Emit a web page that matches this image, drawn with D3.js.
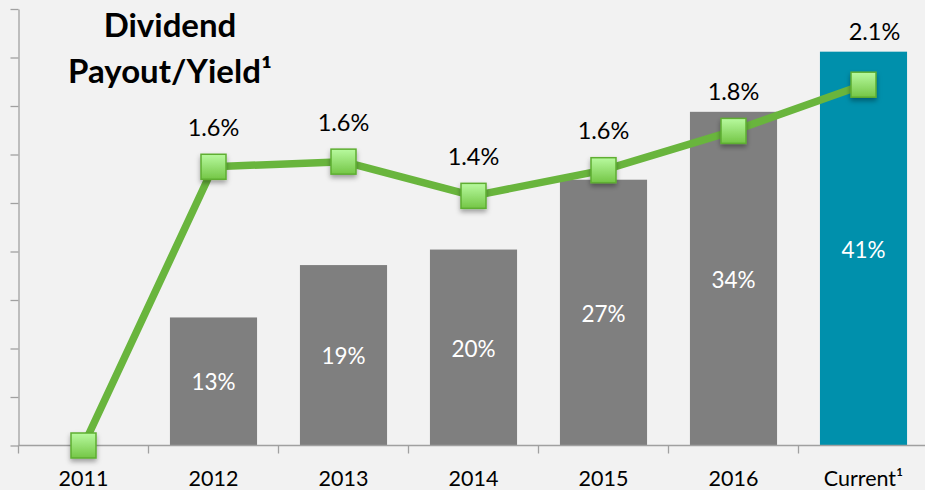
<!DOCTYPE html>
<html>
<head>
<meta charset="utf-8">
<script src="https://cdn.jsdelivr.net/npm/d3@7"></script>
<style>
  html, body { margin: 0; padding: 0; background: #f2f2f2; }
  svg { display: block; font-family: Lato, "Open Sans", sans-serif; }
</style>
</head>
<body>
<svg id="chart" width="925" height="490"></svg>
<script>
// ---- data ----
const categories = ["2011", "2012", "2013", "2014", "2015", "2016", "Current\u00b9"];
const payout = [null, 13.2, 18.6, 20.2, 27.4, 34.4, 40.6];          // % payout ratio (bars)
const payoutLabels = [null, "13%", "19%", "20%", "27%", "34%", "41%"];
const yieldValues = [0, 1.63, 1.66, 1.46, 1.61, 1.84, 2.11];        // % dividend yield (line)
const yieldLabels = [null, "1.6%", "1.6%", "1.4%", "1.6%", "1.8%", "2.1%"];
const payoutTicks = [0, 5, 10, 15, 20, 25, 30, 35, 40, 45];
const titleLines = ["Dividend", "Payout/Yield\u00b9"];

// ---- layout ----
const svg = d3.select("#chart");
const left = 18.5, right = 928.5, baseY = 445.5, topY = 9;

const x = d3.scaleBand().domain(categories).range([left, right])
  .paddingInner(0.33).paddingOuter(0.165);
const y = d3.scaleLinear().domain([0, 45]).range([baseY, topY]);
const y2 = d3.scaleLinear().domain([0, 2.6]).range([baseY, baseY - 2.6 * 171]);

const defs = svg.append("defs");
const grad = defs.append("linearGradient").attr("id", "mk").attr("x1", 0).attr("y1", 0).attr("x2", 0).attr("y2", 1);
grad.append("stop").attr("offset", "0%").attr("stop-color", "#b8fa9f");
grad.append("stop").attr("offset", "100%").attr("stop-color", "#74c646");
const f = defs.append("filter").attr("id", "sh").attr("x", "-50%").attr("y", "-50%").attr("width", "200%").attr("height", "200%");
f.append("feDropShadow").attr("dx", 0).attr("dy", 3).attr("stdDeviation", 2.5)
  .attr("flood-color", "#000").attr("flood-opacity", 0.35);

// left axis
svg.append("g").attr("transform", `translate(${left},0)`)
  .call(d3.axisLeft(y).tickValues(payoutTicks).tickSize(8).tickFormat("").tickSizeOuter(0))
  .call(g => g.selectAll("line,path").attr("stroke", "#a0a0a0").attr("stroke-width", 1.3));

// bars
const idx = d3.range(categories.length);
svg.append("g").selectAll("rect").data(idx.filter(i => payout[i] != null)).join("rect")
  .attr("x", i => x(categories[i]))
  .attr("width", x.bandwidth())
  .attr("y", i => y(payout[i]))
  .attr("height", i => y(0) - y(payout[i]))
  .attr("fill", i => i === categories.length - 1 ? "#0090ac" : "#7f7f7f");

// bar labels
svg.append("g").selectAll("text").data(idx.filter(i => payout[i] != null)).join("text")
  .attr("x", i => x(categories[i]) + x.bandwidth() / 2)
  .attr("y", i => (y(payout[i]) + y(0)) / 2 + 9)
  .attr("text-anchor", "middle")
  .attr("font-size", 22.5)
  .attr("fill", "#ffffff")
  .text(i => payoutLabels[i]);

// x axis
svg.append("line").attr("x1", left).attr("x2", 925).attr("y1", baseY).attr("y2", baseY)
  .attr("stroke", "#a0a0a0").attr("stroke-width", 1.3);
svg.append("g").selectAll("line").data(d3.range(categories.length + 1)).join("line")
  .attr("x1", k => left + k * x.step()).attr("x2", k => left + k * x.step())
  .attr("y1", baseY).attr("y2", baseY + 8)
  .attr("stroke", "#a0a0a0").attr("stroke-width", 1.3);
svg.append("g").selectAll("text").data(categories).join("text")
  .attr("x", d => x(d) + x.bandwidth() / 2)
  .attr("y", 486)
  .attr("text-anchor", "middle")
  .attr("font-size", 21.5)
  .attr("fill", "#000")
  .text(d => d);

// yield line
const cx = i => x(categories[i]) + x.bandwidth() / 2;
svg.append("path")
  .attr("d", d3.line().x(i => cx(i)).y(i => y2(yieldValues[i]))(idx))
  .attr("fill", "none").attr("stroke", "#69b53d").attr("stroke-width", 7.5)
  .attr("stroke-linejoin", "round");

svg.append("g").selectAll("rect").data(idx).join("rect")
  .attr("x", i => cx(i) - 12.5).attr("y", i => y2(yieldValues[i]) - 12.5)
  .attr("width", 25).attr("height", 25)
  .attr("fill", "url(#mk)").attr("stroke", "#5eae31").attr("stroke-width", 1.5)
  .attr("filter", "url(#sh)");

// yield labels
svg.append("g").selectAll("text").data(idx.filter(i => yieldLabels[i] != null)).join("text")
  .attr("x", i => cx(i) + (i === categories.length - 1 ? 11 : 0))
  .attr("y", i => Math.min(y2(yieldValues[i]) - 31, y(payout[i]) - 12))
  .attr("text-anchor", "middle")
  .attr("font-size", 23.5)
  .attr("fill", "#000")
  .text(i => yieldLabels[i]);

// title
svg.append("g").selectAll("text").data(titleLines).join("text")
  .attr("x", 170).attr("y", (d, k) => 37 + k * 46)
  .attr("text-anchor", "middle")
  .attr("font-size", 33).attr("font-weight", "bold")
  .attr("fill", "#000")
  .text(d => d);
</script>
</body>
</html>
